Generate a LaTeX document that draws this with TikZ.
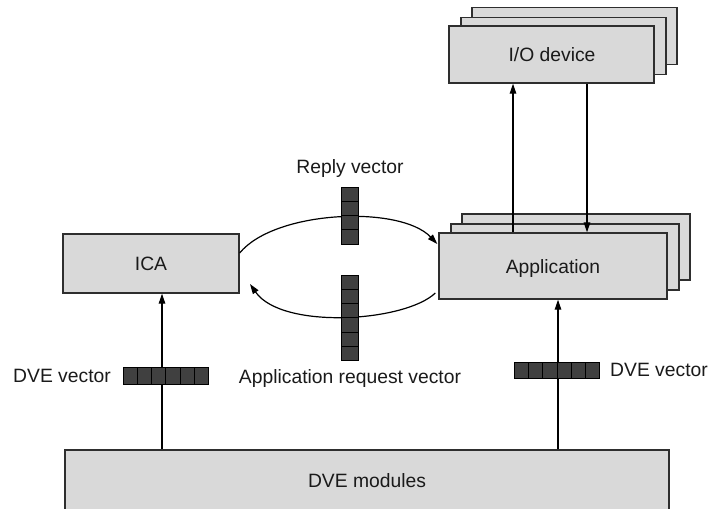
\documentclass[tikz,border=0pt]{standalone}
\usepackage{fontspec}
\setmainfont{Liberation Sans}
\usetikzlibrary{arrows.meta,calc}
\definecolor{boxfill}{HTML}{D9D9D9}
\definecolor{boxline}{HTML}{2E2E2E}
\definecolor{cellfill}{HTML}{404040}
\definecolor{inkc}{HTML}{1A1A1A}
\tikzset{
  box/.style={draw=boxline, line width=1.35pt, fill=boxfill, inner sep=0pt},
  lbl/.style={font=\fontsize{19.3}{22}\selectfont, text=inkc, inner sep=0pt,
              text height=13.8pt, text depth=0pt},
  conn/.style={draw=black, line width=1.2pt, -{Triangle[length=10pt,width=6.5pt]}},
  cell/.style={draw=black, line width=1pt, fill=cellfill},
}
\begin{document}
\begin{tikzpicture}[x=1pt,y=-1pt]
\useasboundingbox (0,0) rectangle (708,508);
\clip (0,0) rectangle (708,508);

% I/O device stack
\node[box, minimum width=205pt, minimum height=57pt] (io3) at (574.5,36) {};
\node[box, minimum width=205pt, minimum height=57pt] (io2) at (563.5,46) {};
\node[box, minimum width=205pt, minimum height=57pt] (io) at (551.5,54.5) {};
\node[lbl] (iolbl) at (552,55) {I/O device};

% Application stack
\node[box, minimum width=228pt, minimum height=66pt] (app3) at (576,247) {};
\node[box, minimum width=228pt, minimum height=66pt] (app2) at (565,257) {};
\node[box, minimum width=228pt, minimum height=66pt] (app) at (553,266) {};
\node[lbl] (applbl) at (553,267) {Application};

% ICA
\node[box, minimum width=176pt, minimum height=59pt] (ica) at (151,263.5) {};
\node[lbl] (icalbl) at (151,263.5) {ICA};

% DVE modules (runs past the lower edge)
\node[box, minimum width=604pt, minimum height=90pt] (dve) at (367,495) {};
\node[lbl] (dvelbl) at (367,481) {DVE modules};

% vertical connector positions
\coordinate (xup) at (513,0);
\coordinate (xdown) at (587,0);
\coordinate (xapp) at (558,0);
\coordinate (xica) at (162,0);

\draw[conn] (app.north -| xup) -- (io.south -| xup);
\draw[conn] (io.south -| xdown) -- (app.north -| xdown);
\draw[conn] (dve.north -| xapp) -- (app.south -| xapp);
\draw[conn] (dve.north -| xica) -- (ica.south -| xica);

% exchange loop between ICA and Application
\draw[conn] ($(ica.east)+(0,-10.5)$) .. controls (275,210) and (400,205) .. ($(app.west)+(-1,-22)$);
\draw[conn] ($(app.west)+(-3,27)$) .. controls (405,322) and (282,330) .. (250,284);

% vectors
\foreach \i in {0,...,5} \draw[cell] (123+\i*14.33,367) rectangle ++(14.33,17);
\foreach \i in {0,...,5} \draw[cell] (514+\i*14.33,362) rectangle ++(14.33,16);
\foreach \i in {0,...,3} \draw[cell] (341,187+\i*14.25) rectangle ++(17,14.25);
\foreach \i in {0,...,5} \draw[cell] (341,275+\i*14.33) rectangle ++(17,14.33);

% vector labels
\node[lbl] (replylbl) at (350,167) {Reply vector};
\node[lbl] (reqlbl) at (350,377) {Application request vector};
\node[lbl] (dvevl) at (62,375.5) {DVE vector};
\node[lbl] (dvevr) at (659,370) {DVE vector};
\end{tikzpicture}
\end{document}
